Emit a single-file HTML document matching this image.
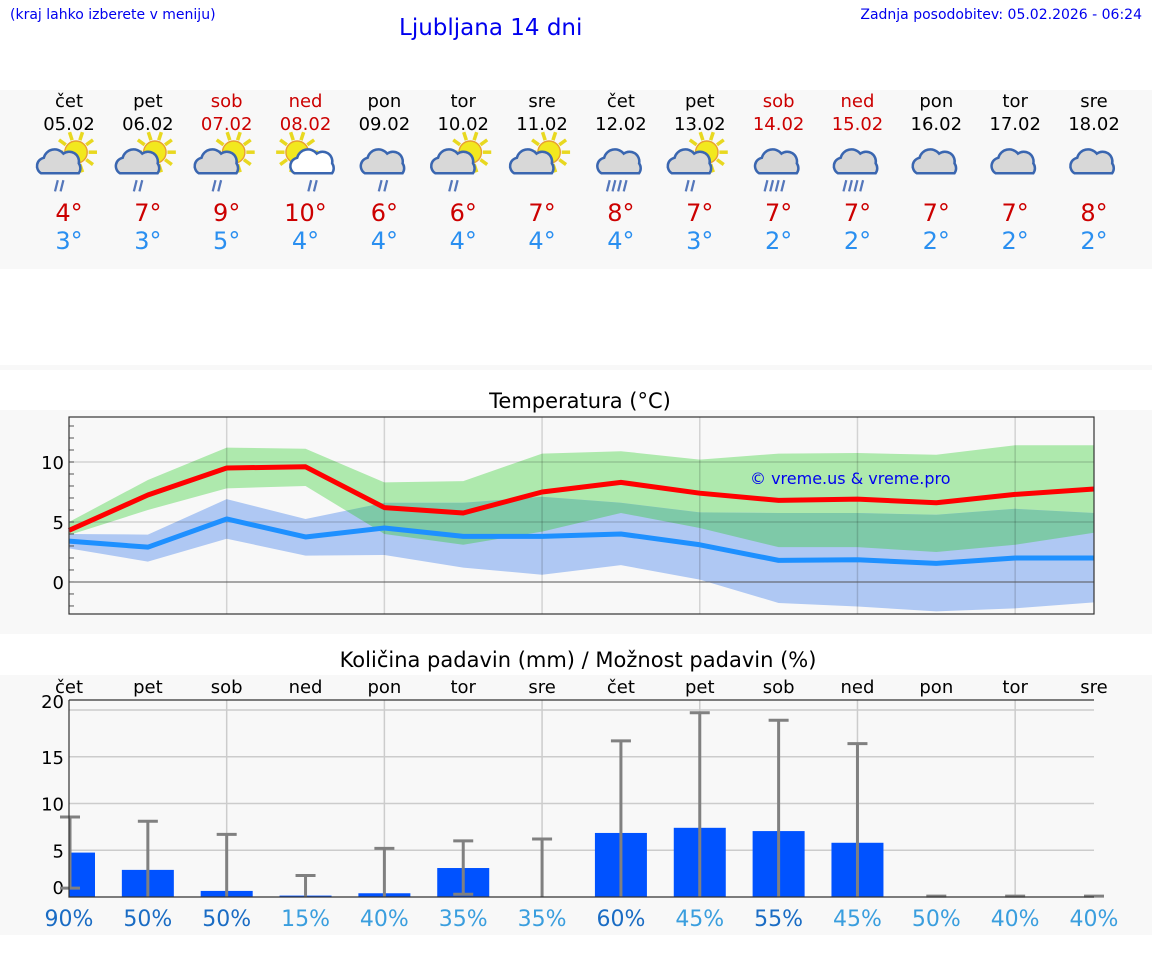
<!DOCTYPE html>
<html><head><meta charset="utf-8"><style>
body{margin:0;width:1152px;height:975px;background:#fff;font-family:"DejaVu Sans","Liberation Sans",sans-serif;overflow:hidden;position:relative}
.a{position:absolute}
</style></head><body>
<div class="a" style="left:10px;top:7px;font-size:14px;color:#0000ee">(kraj lahko izberete v meniju)</div>
<div class="a" style="left:399px;top:15px;font-size:23px;color:#0000ee">Ljubljana 14 dni</div>
<div class="a" style="right:10px;top:7px;font-size:14px;color:#0000ee">Zadnja posodobitev: 05.02.2026 - 06:24</div>
<div class="a" style="left:0;top:90px;width:1152px;height:179px;background:#f8f8f8"></div>
<div class="a" style="left:0;top:365px;width:1152px;height:5px;background:#f8f8f8"></div>
<svg class="a" id="main" style="left:0;top:0" width="1152" height="975"></svg>
<script>
const days=["čet","pet","sob","ned","pon","tor","sre","čet","pet","sob","ned","pon","tor","sre"];
const dates=["05.02","06.02","07.02","08.02","09.02","10.02","11.02","12.02","13.02","14.02","15.02","16.02","17.02","18.02"];
const maxT=[4,7,9,10,6,6,7,8,7,7,7,7,7,8];
const minT=[3,3,5,4,4,4,4,4,3,2,2,2,2,2];
const icons=["scr","scr","scr","swr","cr","scr","sc","crr","scr","crr","crr","c","c","c"];
const maxLine=[4.3,7.25,9.5,9.6,6.2,5.75,7.5,8.3,7.4,6.8,6.9,6.6,7.3,7.75];
const maxHi=[5.0,8.5,11.2,11.1,8.3,8.4,10.7,10.9,10.2,10.7,10.75,10.6,11.4,11.4];
const maxLo=[3.9,6.0,7.8,8.0,4.0,3.1,4.2,5.75,4.5,2.9,2.9,2.5,3.1,4.1];
const minLine=[3.4,2.9,5.25,3.75,4.5,3.8,3.8,4.0,3.1,1.8,1.85,1.55,2.0,2.0];
const minHi=[4.0,3.95,6.9,5.25,6.6,6.6,7.1,6.6,5.8,5.75,5.75,5.6,6.1,5.75];
const minLo=[2.8,1.7,3.6,2.2,2.25,1.2,0.6,1.4,0.2,-1.75,-2.05,-2.45,-2.2,-1.7];
const tempTicks=[0,5,10];
const rain=[4.75,2.9,0.65,0.15,0.4,3.1,0,6.85,7.4,7.05,5.8,0.05,0.05,0.05];
const rainHi=[8.55,8.1,6.7,2.3,5.2,6.0,6.2,16.7,19.7,18.9,16.4,0.1,0.1,0.1];
const rainLo=[0.95,0,0,0,0,0.3,0,0,0,0,0,0,0,0];
const chance=[90,50,50,15,40,35,35,60,45,55,45,50,40,40];
const rainTicks=[0,5,10,15,20];

const NS="http://www.w3.org/2000/svg";
const svg=document.getElementById('main');
function mk(tag,attrs,parent){const e=document.createElementNS(NS,tag);for(const k in attrs)e.setAttribute(k,attrs[k]);(parent||svg).appendChild(e);return e;}
function tx(x,y,s,size,fill,anchor,parent){const e=mk('text',{x:x,y:y,'font-size':size,fill:fill,'text-anchor':anchor||'middle','font-family':'DejaVu Sans, Liberation Sans, sans-serif'},parent);e.textContent=s;return e;}
const X0=69,X1=1094;
const xd=i=>X0+i*(X1-X0)/13;
const weekend=i=>days[i]==="sob"||days[i]==="ned";

for(let i=0;i<14;i++){
  const x=xd(i);
  const col=weekend(i)?"#cc0000":"#000";
  const t1=tx(x,107,days[i],18,col);
  
  const t2=tx(x,130,dates[i],18,col);
  
  const g=mk('g',{transform:`translate(${x},162) scale(1.4)`});
  
  
  const ic=icons[i];
  if(ic[0]==='s'){
    const sx=ic[1]==='w'?-6:5, sy=-7;
    for(let k=0;k<10;k++){const a=k*Math.PI/5;mk('line',{x1:sx+Math.cos(a)*9,y1:sy+Math.sin(a)*9,x2:sx+Math.cos(a)*15,y2:sy+Math.sin(a)*15,stroke:'#e8d820','stroke-width':2.5},g);}
    mk('circle',{cx:sx,cy:sy,r:8,fill:'#f2e81e',stroke:'#e8a030','stroke-width':1},g);
  }
  const white=ic[1]==='w';
  const cx=white?6:(ic[0]==='c'?0:-6);
  const fill=white?'#fff':'#d8d8d8';
  mk('path',{d:`M${cx-14},${8} a6,6 0 0 1 2,-11 a8,8 0 0 1 14,-3 a7,7 0 0 1 11,7 a6,6 0 0 1 0,7 z`,fill:fill,stroke:'#3a66b0','stroke-width':1.8},g);
  if(ic.indexOf('r')>=0){
    const n=ic.endsWith('rr')?4:2;
    for(let k=0;k<n;k++){const rx=cx-3+k*4-(n-2)*3;mk('line',{x1:rx+1,y1:13,x2:rx-1,y2:21,stroke:'#5577bb','stroke-width':1.6},g);}
  }
  const t3=tx(x,221,maxT[i]+"°",24,"#cc0000");
  
  const t4=tx(x,249,minT[i]+"°",24,"#2a8ff0");
  
}

const bg1=mk('rect',{x:0,y:410,width:1152,height:224,fill:'#f8f8f8'});

const tt=tx(580,408,"Temperatura (°C)",21,"#000");

const TY0=417,TY1=614,TMAX=13.75,TMIN=-2.67;
const ty=v=>TY0+(TMAX-v)*(TY1-TY0)/(TMAX-TMIN);
function bandPath(hi,lo){
  let d="";hi.forEach((v,i)=>d+=(i?"L":"M")+xd(i)+","+ty(v));
  for(let i=lo.length-1;i>=0;i--)d+="L"+xd(i)+","+ty(lo[i]);
  return d+"Z";
}
const defs=mk('defs',{});
const cpth=mk('clipPath',{id:'gclip'},defs);
mk('path',{d:bandPath(maxHi,maxLo)},cpth);
const gb=mk('path',{d:bandPath(maxHi,maxLo),fill:'#aee9ad'});

const bb=mk('path',{d:bandPath(minHi,minLo),fill:'#afc8f3'});

const ob=mk('path',{d:bandPath(minHi,minLo),fill:'#7ec9a8','clip-path':'url(#gclip)'});

for(let i=2;i<13;i+=2)mk('line',{x1:xd(i),x2:xd(i),y1:TY0,y2:TY1,stroke:'rgba(0,0,0,0.15)','stroke-width':1.5});
tempTicks.forEach(v=>{
  mk('line',{x1:X0,x2:X1,y1:ty(v),y2:ty(v),stroke:v===0?'#555':'rgba(0,0,0,0.15)','stroke-width':v===0?1:1.5});
  const l=tx(64,ty(v)+7,String(v),18,'#000','end');
  
});
for(let v=-2;v<=13;v++)mk('line',{x1:X0,x2:X0+5,y1:ty(v),y2:ty(v),stroke:'#555','stroke-width':1});
function line(vals,col,name){
  const p=mk('polyline',{points:vals.map((v,i)=>xd(i)+","+ty(v)).join(" "),fill:'none',stroke:col,'stroke-width':5,'stroke-linejoin':'round'});
  
}
line(maxLine,'#ff0000','max-temp-line');
line(minLine,'#1e90ff','min-temp-line');
mk('rect',{x:X0,y:TY0,width:X1-X0,height:TY1-TY0,fill:'none',stroke:'#333','stroke-width':1.2});
const cp=tx(750,484,"© vreme.us & vreme.pro",16,'#0000ee','start');


const bg2=mk('rect',{x:0,y:675,width:1152,height:260,fill:'#f8f8f8'});

const pt=tx(578,667,"Količina padavin (mm) / Možnost padavin (%)",21,'#000');

const PB=897,PPX=9.35,PT=700;
const py=v=>PB-v*PPX;
for(let i=2;i<13;i+=2)mk('line',{x1:xd(i),x2:xd(i),y1:PT,y2:PB,stroke:'#ccc','stroke-width':1.5});
rainTicks.forEach(v=>{
  if(v>0)mk('line',{x1:X0,x2:X1,y1:py(v),y2:py(v),stroke:'#ccc','stroke-width':1.5});
  const yl=v===0?894:(v===20?708:py(v)+7);
  const l=tx(64,yl,String(v),18,'#000','end');
  
});
for(let i=0;i<14;i++){
  const x=xd(i);
  const dl=tx(x,693,days[i],18,'#000');
  
  const bx=Math.max(X0,x-26),bw=Math.min(X1,x+26)-bx;
  const b=mk('rect',{x:bx,y:py(rain[i]),width:bw,height:rain[i]*PPX,fill:'#0052ff'});
  
  const ex=Math.max(X0+1,x);
  const e=mk('path',{d:`M${ex},${py(rainLo[i])}L${ex},${py(rainHi[i])}M${ex-10},${py(rainHi[i])}L${ex+10},${py(rainHi[i])}`+(rainLo[i]>0?`M${ex-10},${py(rainLo[i])}L${ex+10},${py(rainLo[i])}`:''),stroke:'#808080','stroke-width':3,fill:'none'});
  
  const c=tx(x,926,chance[i]+"%",22,chance[i]>=50&&i<11?'#1a6cc4':'#3a9ede');
  
}
mk('path',{d:`M${X0},${PT}L${X0},${PB}L${X1},${PB}`,stroke:'#333','stroke-width':1.2,fill:'none'});
mk('line',{x1:X0,x2:X1,y1:PT,y2:PT,stroke:'#333','stroke-width':1.2});
</script>
</body></html>
